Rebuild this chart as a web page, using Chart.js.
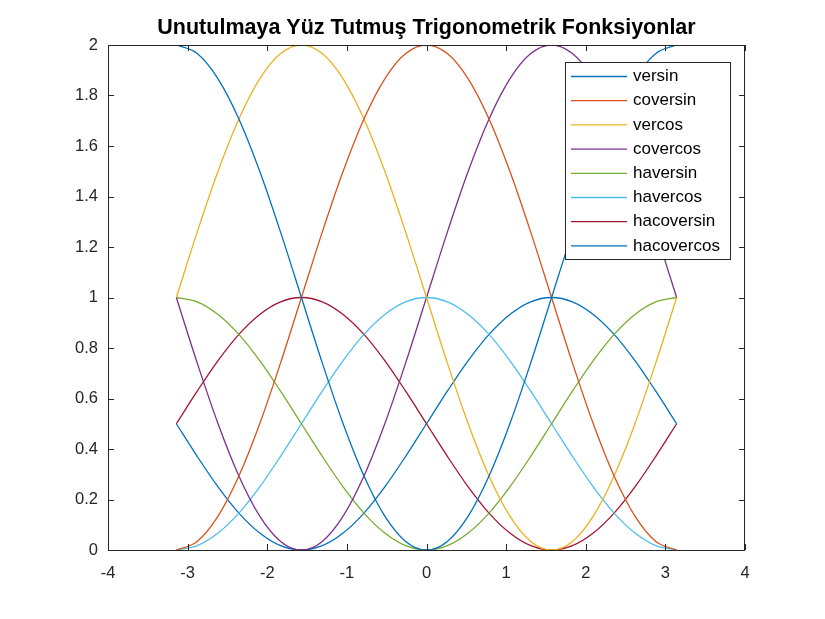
<!DOCTYPE html>
<html>
<head>
<meta charset="utf-8">
<script src="https://cdn.jsdelivr.net/npm/chart.js@4"></script>
<style>
  body { margin: 0; background: #fff; }
</style>
</head>
<body>
<canvas id="trigChart" width="825" height="619"></canvas>
<script>
  // x samples from -pi to pi, step pi/12
  const xs = [-3.1416, -2.8798, -2.618, -2.3562, -2.0944, -1.8326, -1.5708, -1.309, -1.0472, -0.7854, -0.5236, -0.2618, 0,
              0.2618, 0.5236, 0.7854, 1.0472, 1.309, 1.5708, 1.8326, 2.0944, 2.3562, 2.618, 2.8798, 3.1416];

  const versin     = [2, 1.966, 1.866, 1.707, 1.5, 1.259, 1, 0.741, 0.5, 0.293, 0.134, 0.034, 0, 0.034, 0.134, 0.293, 0.5, 0.741, 1, 1.259, 1.5, 1.707, 1.866, 1.966, 2];
  const coversin   = [0, 0.034, 0.134, 0.293, 0.5, 0.741, 1, 1.259, 1.5, 1.707, 1.866, 1.966, 2, 1.966, 1.866, 1.707, 1.5, 1.259, 1, 0.741, 0.5, 0.293, 0.134, 0.034, 0];
  const vercos     = [1, 1.259, 1.5, 1.707, 1.866, 1.966, 2, 1.966, 1.866, 1.707, 1.5, 1.259, 1, 0.741, 0.5, 0.293, 0.134, 0.034, 0, 0.034, 0.134, 0.293, 0.5, 0.741, 1];
  const covercos   = [1, 0.741, 0.5, 0.293, 0.134, 0.034, 0, 0.034, 0.134, 0.293, 0.5, 0.741, 1, 1.259, 1.5, 1.707, 1.866, 1.966, 2, 1.966, 1.866, 1.707, 1.5, 1.259, 1];
  const haversin   = [1, 0.983, 0.933, 0.854, 0.75, 0.629, 0.5, 0.371, 0.25, 0.146, 0.067, 0.017, 0, 0.017, 0.067, 0.146, 0.25, 0.371, 0.5, 0.629, 0.75, 0.854, 0.933, 0.983, 1];
  const havercos   = [0, 0.017, 0.067, 0.146, 0.25, 0.371, 0.5, 0.629, 0.75, 0.854, 0.933, 0.983, 1, 0.983, 0.933, 0.854, 0.75, 0.629, 0.5, 0.371, 0.25, 0.146, 0.067, 0.017, 0];
  const hacoversin = [0.5, 0.629, 0.75, 0.854, 0.933, 0.983, 1, 0.983, 0.933, 0.854, 0.75, 0.629, 0.5, 0.371, 0.25, 0.146, 0.067, 0.017, 0, 0.017, 0.067, 0.146, 0.25, 0.371, 0.5];
  const hacovercos = [0.5, 0.371, 0.25, 0.146, 0.067, 0.017, 0, 0.017, 0.067, 0.146, 0.25, 0.371, 0.5, 0.629, 0.75, 0.854, 0.933, 0.983, 1, 0.983, 0.933, 0.854, 0.75, 0.629, 0.5];

  const names  = ["versin", "coversin", "vercos", "covercos", "haversin", "havercos", "hacoversin", "hacovercos"];
  const series = [versin, coversin, vercos, covercos, haversin, havercos, hacoversin, hacovercos];
  const colors = ["#0072BD", "#D95319", "#EDB120", "#7E2F8E", "#77AC30", "#4DBEEE", "#A2142F", "#0072BD"];

  const title = "Unutulmaya Yüz Tutmuş Trigonometrik Fonksiyonlar";
  const ink = "#262626";
  const font = "'Liberation Sans', Arial, Helvetica, sans-serif";

  // box around the axes with inward ticks on all four sides, plus title centred on the axes
  const axesBox = {
    id: "axesBox",
    afterDraw(chart) {
      const { ctx, chartArea: a, scales } = chart;
      const len = 6;
      ctx.save();
      ctx.strokeStyle = ink;
      ctx.lineWidth = 1;
      ctx.strokeRect(a.left + 0.5, a.top + 0.5, a.right - a.left - 1, a.bottom - a.top);
      ctx.beginPath();
      scales.x.ticks.forEach(t => {
        const px = Math.round(scales.x.getPixelForValue(t.value)) + 0.5;
        ctx.moveTo(px, a.bottom); ctx.lineTo(px, a.bottom - len);
        ctx.moveTo(px, a.top); ctx.lineTo(px, a.top + len);
      });
      scales.y.ticks.forEach(t => {
        const py = Math.round(scales.y.getPixelForValue(t.value)) + 0.5;
        ctx.moveTo(a.left, py); ctx.lineTo(a.left + len, py);
        ctx.moveTo(a.right, py); ctx.lineTo(a.right - len, py);
      });
      ctx.stroke();

      ctx.fillStyle = "#000";
      ctx.font = "bold 21.5px " + font;
      ctx.textAlign = "center";
      ctx.textBaseline = "middle";
      ctx.fillText(title, (a.left + a.right) / 2, 28);
      ctx.restore();
    }
  };

  // legend box inside the top right corner
  const boxLegend = {
    id: "boxLegend",
    afterDatasetsDraw(chart) {
      const { ctx } = chart;
      const x0 = 565, y0 = 62, w = 165, h = 197, row = 24.2;
      ctx.save();
      ctx.fillStyle = "#fff";
      ctx.fillRect(x0, y0, w, h);
      ctx.strokeStyle = ink;
      ctx.lineWidth = 1;
      ctx.strokeRect(x0 + 0.5, y0 + 0.5, w, h);
      ctx.font = "17px " + font;
      ctx.textBaseline = "middle";
      chart.data.datasets.forEach((ds, i) => {
        const y = y0 + 14.5 + i * row;
        ctx.strokeStyle = ds.borderColor;
        ctx.lineWidth = 1.3;
        ctx.beginPath();
        ctx.moveTo(x0 + 6, y); ctx.lineTo(x0 + 62, y);
        ctx.stroke();
        ctx.fillStyle = "#000";
        ctx.fillText(ds.label, x0 + 68, y);
      });
      ctx.restore();
    }
  };

  new Chart(document.getElementById("trigChart"), {
    type: "line",
    data: {
      datasets: names.map((n, i) => ({
        label: n,
        data: xs.map((x, j) => ({ x: x, y: series[i][j] })),
        borderColor: colors[i],
        borderWidth: 1.3,
        pointRadius: 0,
        cubicInterpolationMode: "monotone",
        fill: false
      }))
    },
    options: {
      responsive: false,
      animation: false,
      layout: { padding: { left: 58, right: 80, top: 45, bottom: 0 } },
      plugins: {
        legend: { display: false },
        tooltip: { enabled: false },
        title: { display: false }
      },
      scales: {
        x: {
          type: "linear",
          min: -4, max: 4,
          afterFit(scale) { scale.height = 69; },
          grid: { display: false, drawTicks: false },
          border: { display: false },
          ticks: { stepSize: 1, padding: 14, color: ink, font: { family: font, size: 16.5 } }
        },
        y: {
          min: 0, max: 2,
          afterFit(scale) { scale.width = 50; },
          grid: { display: false, drawTicks: false },
          border: { display: false },
          ticks: {
            stepSize: 0.2, padding: 10, color: ink, font: { family: font, size: 16.5 },
            callback: v => String(Number(v.toFixed(1)))
          }
        }
      }
    },
    plugins: [axesBox, boxLegend]
  });
</script>
</body>
</html>
